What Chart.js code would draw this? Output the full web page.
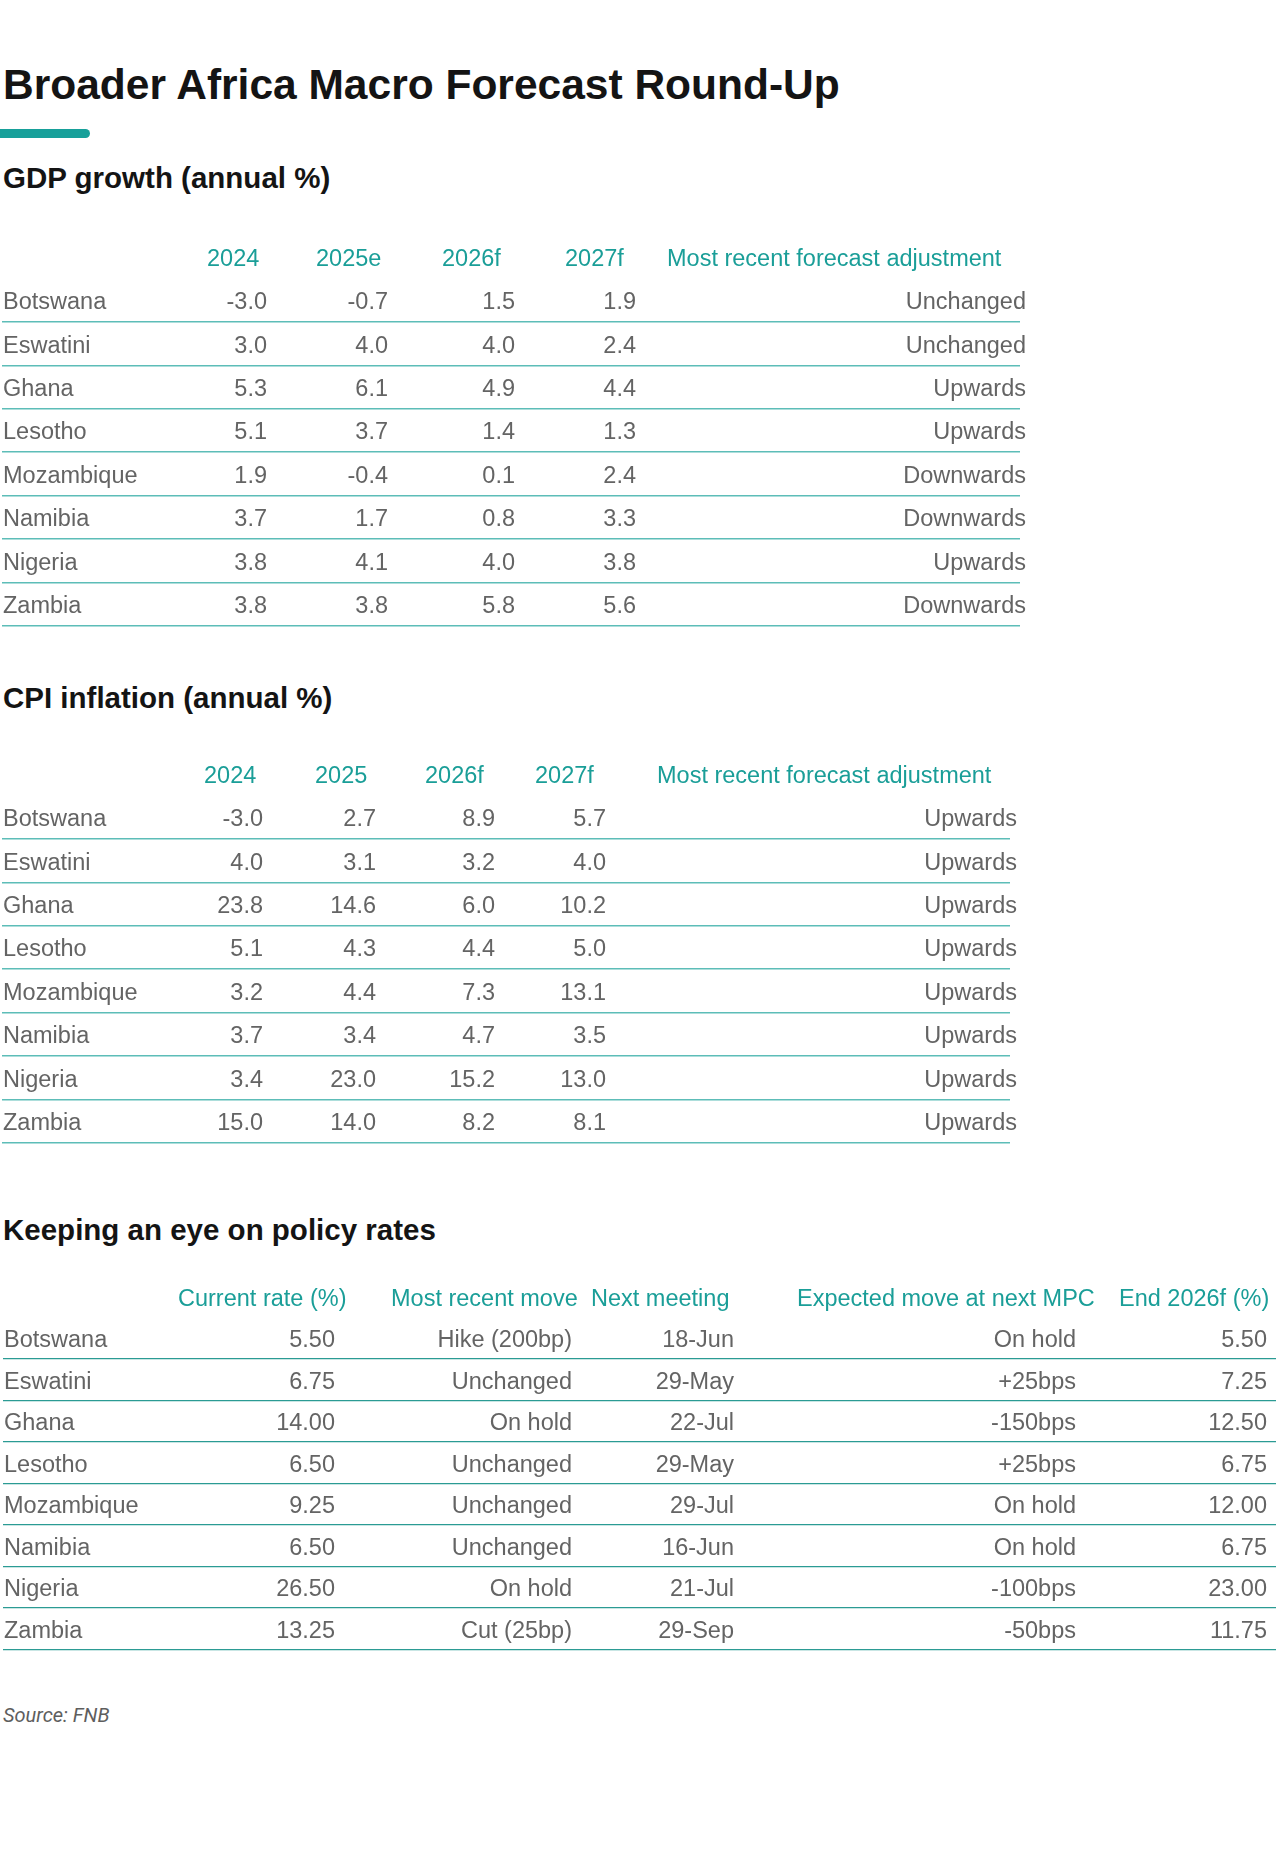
<!DOCTYPE html>
<html>
<head>
<meta charset="utf-8">
<script src="https://cdn.jsdelivr.net/npm/chart.js@4.4.1/dist/chart.umd.min.js"></script>
<style>
  body { margin: 0; background: #fff; }
  #page { position: relative; width: 1281px; height: 1870px; overflow: hidden; font-family: "Liberation Sans", Arial, sans-serif; }
  .title { position: absolute; left: 3px; white-space: nowrap; line-height: 1; color: #141414; font-weight: bold; }
  .bar { position: absolute; left: 0; top: 129px; width: 90px; height: 9px; background: #17a09a; border-radius: 0 5px 5px 0; }
  .source { position: absolute; left: 3px; top: 1705px; font: italic 20px Roboto, "Noto Sans", sans-serif; line-height: 1; color: #5e5e5e; }
  canvas { position: absolute; left: 0; }
</style>
</head>
<body>
<div id="page">
  <div class="title" style="top:64px;font-size:42.5px">Broader Africa Macro Forecast Round-Up</div>
  <div class="bar"></div>
  <div class="title" style="top:163px;font-size:29.5px">GDP growth (annual %)</div>
  <canvas id="gdp"></canvas>
  <div class="title" style="top:683px;font-size:29.5px">CPI inflation (annual %)</div>
  <canvas id="cpi"></canvas>
  <div class="title" style="top:1215px;font-size:29.5px">Keeping an eye on policy rates</div>
  <canvas id="policy"></canvas>
  <div class="source">Source: FNB</div>
</div>
<script>
const countries = ['Botswana', 'Eswatini', 'Ghana', 'Lesotho', 'Mozambique', 'Namibia', 'Nigeria', 'Zambia'];

// GDP growth (annual %)
const gdpHeaders = ['2024', '2025e', '2026f', '2027f', 'Most recent forecast adjustment'];
const gdp2024 = [-3.0, 3.0, 5.3, 5.1, 1.9, 3.7, 3.8, 3.8];
const gdp2025e = [-0.7, 4.0, 6.1, 3.7, -0.4, 1.7, 4.1, 3.8];
const gdp2026f = [1.5, 4.0, 4.9, 1.4, 0.1, 0.8, 4.0, 5.8];
const gdp2027f = [1.9, 2.4, 4.4, 1.3, 2.4, 3.3, 3.8, 5.6];
const gdpAdjust = ['Unchanged', 'Unchanged', 'Upwards', 'Upwards', 'Downwards', 'Downwards', 'Upwards', 'Downwards'];

// CPI inflation (annual %)
const cpiHeaders = ['2024', '2025', '2026f', '2027f', 'Most recent forecast adjustment'];
const cpi2024 = [-3.0, 4.0, 23.8, 5.1, 3.2, 3.7, 3.4, 15.0];
const cpi2025 = [2.7, 3.1, 14.6, 4.3, 4.4, 3.4, 23.0, 14.0];
const cpi2026f = [8.9, 3.2, 6.0, 4.4, 7.3, 4.7, 15.2, 8.2];
const cpi2027f = [5.7, 4.0, 10.2, 5.0, 13.1, 3.5, 13.0, 8.1];
const cpiAdjust = ['Upwards', 'Upwards', 'Upwards', 'Upwards', 'Upwards', 'Upwards', 'Upwards', 'Upwards'];

// Policy rates
const policyHeaders = ['Current rate (%)', 'Most recent move', 'Next meeting', 'Expected move at next MPC', 'End 2026f (%)'];
const currentRate = [5.50, 6.75, 14.00, 6.50, 9.25, 6.50, 26.50, 13.25];
const recentMove = ['Hike (200bp)', 'Unchanged', 'On hold', 'Unchanged', 'Unchanged', 'Unchanged', 'On hold', 'Cut (25bp)'];
const nextMeeting = ['18-Jun', '29-May', '22-Jul', '29-May', '29-Jul', '16-Jun', '21-Jul', '29-Sep'];
const expectedMove = ['On hold', '+25bps', '-150bps', '+25bps', 'On hold', 'On hold', '-100bps', '-50bps'];
const end2026f = [5.50, 7.25, 12.50, 6.75, 12.00, 6.75, 23.00, 11.75];

const fmt = d => v => v.toFixed(d);

// draws header, country names and cell texts at the scale positions
const cellText = {
  id: 'cellText',
  afterDatasetsDraw(chart, args, opts) {
    const { ctx, scales: { x, y } } = chart;
    const step = y.getPixelForValue(1) - y.getPixelForValue(0);
    ctx.save();
    ctx.font = opts.size + 'px "Liberation Sans", Arial, sans-serif';
    ctx.textBaseline = 'middle';
    ctx.textAlign = 'left';
    ctx.fillStyle = opts.headColor;
    opts.headers.forEach((h, i) => {
      ctx.fillText(h, x.getPixelForValue(opts.headX[i]), y.getPixelForValue(0) - step + opts.dy);
    });
    ctx.fillStyle = opts.color;
    y.getLabels().forEach((c, i) => {
      ctx.fillText(c, x.getPixelForValue(opts.nameX), y.getPixelForValue(i) + opts.dy);
    });
    ctx.textAlign = 'right';
    chart.data.datasets.forEach((ds, i) => {
      chart.getDatasetMeta(i).data.forEach((pt, j) => {
        ctx.fillText(ds.texts[j], pt.x, pt.y + opts.dy);
      });
    });
    ctx.restore();
  }
};

function makeTable(id, spec) {
  const canvas = document.getElementById(id);
  const n = countries.length;
  const h = Math.ceil(spec.padTop + n * spec.pitch + 4);
  canvas.width = 1281;
  canvas.height = h;
  canvas.style.width = '1281px';
  canvas.style.height = h + 'px';
  canvas.style.top = spec.top + 'px';

  new Chart(canvas, {
    type: 'scatter',
    data: {
      datasets: spec.cols.map((col, i) => ({
        data: countries.map(c => ({ x: spec.valueX[i], y: c })),
        texts: col,
        pointRadius: 0
      }))
    },
    options: {
      responsive: false,
      animation: false,
      events: [],
      layout: {
        padding: { top: spec.padTop, bottom: h - spec.padTop - n * spec.pitch, left: spec.left, right: 1281 - spec.right }
      },
      scales: {
        x: { type: 'linear', display: false, min: spec.left, max: spec.right },
        y: {
          type: 'category',
          labels: countries,
          offset: true,
          ticks: { display: false },
          border: { display: false },
          grid: {
            offset: true,
            drawTicks: false,
            color: c => c.index === 0 ? 'rgba(0,0,0,0)' : spec.lineColor,
            lineWidth: spec.lineWidth
          }
        }
      },
      plugins: {
        legend: { display: false },
        tooltip: { enabled: false },
        cellText: {
          headers: spec.headers,
          headX: spec.headX,
          nameX: spec.left + 1,
          size: 23.5,
          dy: 2.5,
          color: '#646464',
          headColor: '#1a9e98'
        }
      }
    },
    plugins: [cellText]
  });
}

makeTable('gdp', {
  top: 230, padTop: 48.6, pitch: 43.4, left: 2, right: 1020,
  lineColor: '#5dbdb8', lineWidth: 1.5,
  headers: gdpHeaders,
  headX: [207, 316, 442, 565, 667],
  valueX: [267, 388, 515, 636, 1026],
  cols: [gdp2024.map(fmt(1)), gdp2025e.map(fmt(1)), gdp2026f.map(fmt(1)), gdp2027f.map(fmt(1)), gdpAdjust]
});

makeTable('cpi', {
  top: 747, padTop: 48.6, pitch: 43.4, left: 2, right: 1010,
  lineColor: '#5dbdb8', lineWidth: 1.5,
  headers: cpiHeaders,
  headX: [204, 315, 425, 535, 657],
  valueX: [263, 376, 495, 606, 1017],
  cols: [cpi2024.map(fmt(1)), cpi2025.map(fmt(1)), cpi2026f.map(fmt(1)), cpi2027f.map(fmt(1)), cpiAdjust]
});

makeTable('policy', {
  top: 1271, padTop: 46.5, pitch: 41.5, left: 3, right: 1276,
  lineColor: '#2b9b94', lineWidth: 1.2,
  headers: policyHeaders,
  headX: [178, 391, 591, 797, 1119],
  valueX: [335, 572, 734, 1076, 1267],
  cols: [currentRate.map(fmt(2)), recentMove, nextMeeting, expectedMove, end2026f.map(fmt(2))]
});
</script>
</body>
</html>
